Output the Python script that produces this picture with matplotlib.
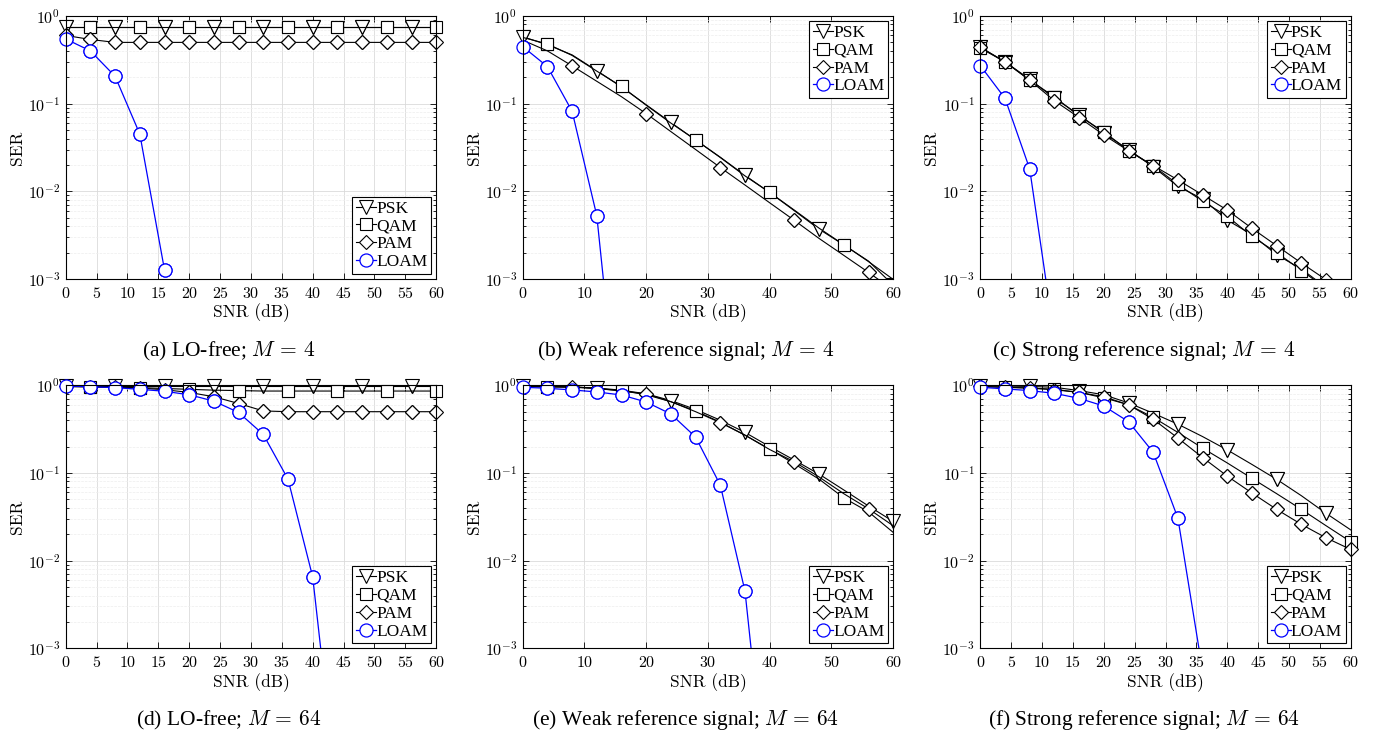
import matplotlib
matplotlib.use('Agg')
import matplotlib.pyplot as plt
from matplotlib.ticker import LogLocator, NullFormatter, MultipleLocator

# SNR grid (dB) shared by the PSK / QAM / PAM curves
snr = [0, 4, 8, 12, 16, 20, 24, 28, 32, 36, 40, 44, 48, 52, 56, 60]

# (a) LO-free, M = 4
psk_a = [0.75, 0.75, 0.75, 0.75, 0.75, 0.75, 0.75, 0.75,
         0.75, 0.75, 0.75, 0.75, 0.75, 0.75, 0.75, 0.75]
qam_a = [0.75, 0.75, 0.75, 0.75, 0.75, 0.75, 0.75, 0.75,
         0.75, 0.75, 0.75, 0.75, 0.75, 0.75, 0.75, 0.75]
pam_a = [0.60, 0.54, 0.50, 0.50, 0.50, 0.50, 0.50, 0.50,
         0.50, 0.50, 0.50, 0.50, 0.50, 0.50, 0.50, 0.50]
loam_snr_a = [0, 4, 8, 12, 16]
loam_a = [0.547, 0.40, 0.205, 0.045, 0.00127]

# (b) weak reference signal, M = 4
psk_b = [0.58, 0.47, 0.36, 0.238, 0.155, 0.097, 0.061, 0.0385,
         0.0245, 0.0152, 0.0097, 0.006, 0.0037, 0.00245, 0.0016, 0.00085]
qam_b = [0.57, 0.48, 0.355, 0.235, 0.157, 0.096, 0.060, 0.0387,
         0.0243, 0.015, 0.0097, 0.0061, 0.0038, 0.00246, 0.00158, 0.00099]
pam_b = [0.53, 0.40, 0.27, 0.18, 0.12, 0.077, 0.048, 0.030,
         0.0187, 0.0118, 0.0074, 0.00466, 0.0029, 0.00186, 0.00119, 0.00075]
loam_snr_b = [0, 4, 8, 12, 16]
loam_b = [0.448, 0.265, 0.082, 0.00526, 0.00001]

# (c) strong reference signal, M = 4
psk_c = [0.44, 0.30, 0.19, 0.115, 0.075, 0.046, 0.030, 0.019,
         0.0114, 0.0082, 0.0047, 0.0032, 0.00189, 0.0013, 0.0008, 0.0005]
qam_c = [0.43, 0.30, 0.185, 0.12, 0.072, 0.048, 0.029, 0.0195,
         0.012, 0.0077, 0.0052, 0.00306, 0.002, 0.00125, 0.00078, 0.0005]
pam_c = [0.44, 0.30, 0.185, 0.108, 0.0695, 0.044, 0.029, 0.0197,
         0.0135, 0.0091, 0.0061, 0.00378, 0.0024, 0.00152, 0.00098, 0.0006]
loam_snr_c = [0, 4, 8, 12]
loam_c = [0.272, 0.115, 0.018, 0.00021]

# (d) LO-free, M = 64
psk_d = [0.98, 0.98, 0.98, 0.98, 0.98, 0.98, 0.98, 0.98,
         0.98, 0.98, 0.98, 0.98, 0.98, 0.98, 0.98, 0.98]
qam_d = [0.97, 0.96, 0.95, 0.94, 0.92, 0.90, 0.88, 0.87,
         0.86, 0.86, 0.86, 0.86, 0.86, 0.86, 0.86, 0.86]
pam_d = [0.97, 0.96, 0.95, 0.93, 0.89, 0.83, 0.74, 0.62,
         0.51, 0.50, 0.50, 0.50, 0.50, 0.50, 0.50, 0.50]
loam_snr_d = [0, 4, 8, 12, 16, 20, 24, 28, 32, 36, 40, 44]
loam_d = [0.98, 0.965, 0.94, 0.90, 0.855, 0.78, 0.66, 0.49,
          0.275, 0.085, 0.0065, 0.00002]

# (e) weak reference signal, M = 64
psk_e = [0.98, 0.97, 0.96, 0.93, 0.88, 0.80, 0.67, 0.53,
         0.40, 0.29, 0.20, 0.14, 0.097, 0.064, 0.042, 0.028]
qam_e = [0.97, 0.96, 0.95, 0.92, 0.87, 0.78, 0.65, 0.51,
         0.38, 0.27, 0.187, 0.127, 0.085, 0.052, 0.036, 0.021]
pam_e = [0.97, 0.96, 0.96, 0.92, 0.86, 0.80, 0.65, 0.50,
         0.375, 0.27, 0.185, 0.134, 0.09, 0.058, 0.039, 0.025]
loam_snr_e = [0, 4, 8, 12, 16, 20, 24, 28, 32, 36, 40]
loam_e = [0.95, 0.925, 0.885, 0.84, 0.775, 0.645, 0.47, 0.257,
          0.0727, 0.00448, 0.00001]

# (f) strong reference signal, M = 64
psk_f = [0.99, 0.98, 0.97, 0.95, 0.87, 0.78, 0.63, 0.48,
         0.36, 0.26, 0.183, 0.125, 0.0845, 0.055, 0.0346, 0.0224]
qam_f = [0.97, 0.95, 0.93, 0.90, 0.83, 0.72, 0.60, 0.43,
         0.29, 0.192, 0.13, 0.0867, 0.058, 0.0384, 0.025, 0.0164]
pam_f = [0.97, 0.95, 0.93, 0.89, 0.83, 0.74, 0.60, 0.41,
         0.25, 0.15, 0.092, 0.059, 0.0384, 0.0259, 0.0182, 0.0134]
loam_snr_f = [0, 4, 8, 12, 16, 20, 24, 28, 32, 36, 40]
loam_f = [0.95, 0.91, 0.87, 0.81, 0.71, 0.58, 0.385, 0.172,
          0.0305, 0.00055, 0.00001]

captions = [r'(a) LO-free; $M\,=\,4$',
            r'(b) Weak reference signal; $M\,=\,4$',
            r'(c) Strong reference signal; $M\,=\,4$',
            r'(d) LO-free; $M\,=\,64$',
            r'(e) Weak reference signal; $M\,=\,64$',
            r'(f) Strong reference signal; $M\,=\,64$']

plt.rcParams['font.family'] = 'cmr10'
plt.rcParams['mathtext.fontset'] = 'cm'
plt.rcParams['axes.formatter.use_mathtext'] = True

TIMES = 'Liberation Serif'
BLUE = '#0000ff'
W, H = 1375, 731
YMIN = 1e-3


def draw_panel(ax, psk, qam, pam, loam_snr, loam, marks, legend_loc, xstep):
    series = [('PSK', psk, 'v', 9.4), ('QAM', qam, 's', 8.0),
              ('PAM', pam, 'D', 7.4)]
    for (label, vals, mk, ms), (start, step) in zip(series, marks):
        ax.plot(snr, vals, color='k', lw=0.8, marker=mk, ms=ms,
                mfc='w', mec='k', mew=0.8, markevery=(start, step),
                label=label)
        # markers sticking out over the frame (like the original)
        idx = [i for i in range(start, len(snr), step) if vals[i] >= YMIN]
        ax.plot([snr[i] for i in idx], [vals[i] for i in idx], ls='none',
                marker=mk, ms=ms, mfc='w', mec='k', mew=0.8, clip_on=False)
    ax.plot(loam_snr, loam, color=BLUE, lw=0.9, marker='o', ms=9.4,
            mfc='w', mec=BLUE, mew=0.9, label='LOAM')
    idx = [i for i in range(len(loam)) if loam[i] >= YMIN]
    ax.plot([loam_snr[i] for i in idx], [loam[i] for i in idx], ls='none',
            marker='o', ms=9.4, mfc='w', mec=BLUE, mew=0.9, clip_on=False)

    ax.set_yscale('log')
    ax.set_ylim(YMIN, 1)
    ax.set_xlim(0, 60)
    ax.xaxis.set_major_locator(MultipleLocator(xstep))
    ax.yaxis.set_major_locator(LogLocator(base=10, numticks=10))
    ax.yaxis.set_minor_locator(LogLocator(base=10, subs=range(2, 10),
                                          numticks=20))
    ax.yaxis.set_minor_formatter(NullFormatter())

    ax.set_axisbelow(True)
    ax.grid(True, which='major', color='#dadada', lw=0.6)
    ax.grid(True, which='minor', axis='y', color='#ededed', lw=0.5, ls='--')
    ax.tick_params(which='both', direction='in', top=True, right=True,
                   labelsize=11.5, width=0.6)
    ax.tick_params(which='major', length=4)
    ax.tick_params(axis='x', which='major', pad=5)
    ax.tick_params(axis='y', which='major', pad=4)
    ax.tick_params(which='minor', length=2.5)
    for spine in ax.spines.values():
        spine.set_linewidth(0.8)
        spine.set_edgecolor('k')

    ax.set_xlabel('SNR (dB)', fontsize=12.5, labelpad=2)
    ax.set_ylabel('SER', fontsize=12.5, labelpad=2)

    leg = ax.legend(loc=legend_loc, prop={'family': TIMES, 'size': 12.5},
                    handlelength=1.15, handletextpad=0.02, labelspacing=0.1,
                    borderpad=0.2, borderaxespad=0.3, fancybox=False,
                    edgecolor='k', framealpha=1)
    leg.get_frame().set_linewidth(0.8)


fig = plt.figure(figsize=(W / 100, H / 100), dpi=100)
fig.patch.set_facecolor('white')

lefts = [65.7, 522.7, 980.3]
tops = [16, 385.3]
ax_w, ax_h = 370.5, 263
cap_y = [351, 720]

panels = [
    (psk_a, qam_a, pam_a, loam_snr_a, loam_a, [(0, 2), (1, 2), (0, 1)], 'lower right', 5),
    (psk_b, qam_b, pam_b, loam_snr_b, loam_b, [(0, 3), (1, 3), (2, 3)], 'upper right', 10),
    (psk_c, qam_c, pam_c, loam_snr_c, loam_c, [(0, 1), (0, 1), (0, 1)], 'upper right', 5),
    (psk_d, qam_d, pam_d, loam_snr_d, loam_d, [(0, 2), (1, 2), (0, 1)], 'lower right', 5),
    (psk_e, qam_e, pam_e, loam_snr_e, loam_e, [(0, 3), (1, 3), (2, 3)], 'lower right', 10),
    (psk_f, qam_f, pam_f, loam_snr_f, loam_f, [(0, 2), (1, 2), (0, 1)], 'lower right', 5),
]

for k, (psk, qam, pam, lsnr, loam, marks, loc, xstep) in enumerate(panels):
    row, col = divmod(k, 3)
    left, top = lefts[col], tops[row]
    ax = fig.add_axes([left / W, 1 - (top + ax_h) / H, ax_w / W, ax_h / H])
    draw_panel(ax, psk, qam, pam, lsnr, loam, marks, loc, xstep)
    fig.text((left + ax_w / 2 - 22) / W, 1 - cap_y[row] / H, captions[k],
             ha='center', va='center', family=TIMES, fontsize=15.5)

fig.savefig('out.png', dpi=100, facecolor='white')
plt.close(fig)
